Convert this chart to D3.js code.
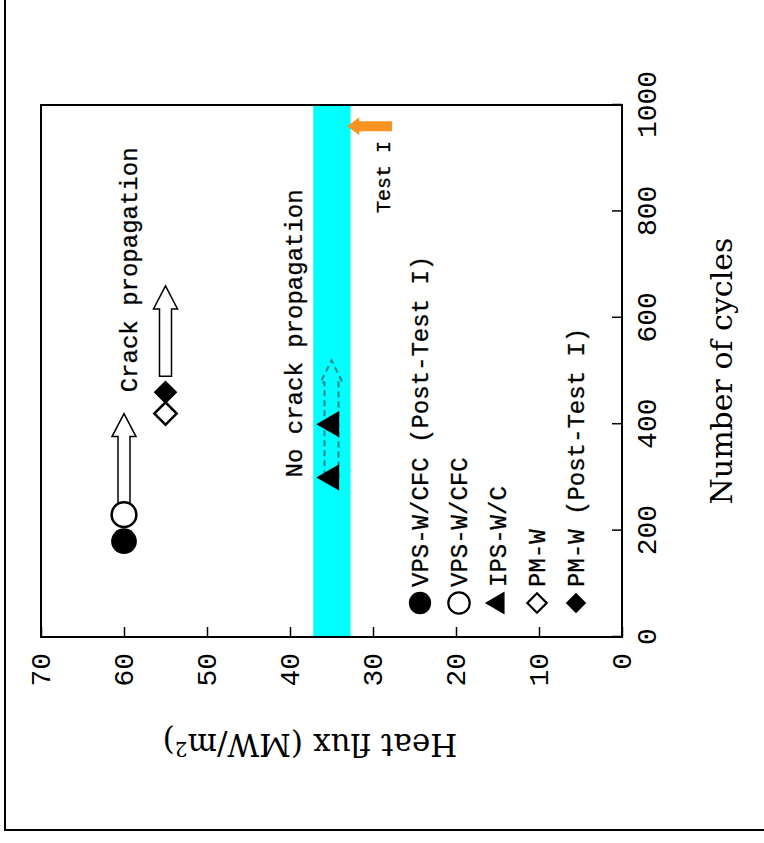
<!DOCTYPE html>
<html>
<head>
<meta charset="utf-8">
<script src="https://cdn.jsdelivr.net/npm/d3@7"></script>
<style>
body { margin: 0; background: #fff; }
</style>
</head>
<body>
<svg id="chart" width="764" height="843"></svg>
<script>
// chart values
const cycleTicks = [0, 200, 400, 600, 800, 1000];
const fluxTicks = [0, 10, 20, 30, 40, 50, 60, 70];
const seriesNames = ["VPS-W/CFC (Post-Test I)", "VPS-W/CFC", "IPS-W/C", "PM-W", "PM-W (Post-Test I)"];
const seriesFlux = [60, 60, 35, 55, 55];
const seriesCycles = [[180], [230], [300, 400], [420], [460]];
const bandFlux = [32.7, 37.2];
const crackArrowFlux = [60, 55];
const crackArrowFrom = [250, 490];
const crackArrowTo = [420, 660];
const noCrackFlux = 35;
const noCrackCycles = [300, 520];
const testCycles = 960;
const testFlux = [27.7, 33.1];
const noteText = ["Crack propagation", "No crack propagation", "Test I"];
const noteCycles = [460, 300, 797];
const noteFlux = [58.4, 38.5, 27.9];

const svg = d3.select("#chart");
const mono = "'Liberation Mono', 'Courier New', monospace";
const serif = "'DejaVu Serif', serif";

// outer figure border (only left and bottom are in view)
svg.append("rect").attr("x", 5).attr("y", -10).attr("width", 820).attr("height", 840)
    .attr("fill", "none").attr("stroke", "#000").attr("stroke-width", 2);

// the whole chart is drawn normally and then turned a quarter turn
const W = 532, H = 581;
const g = svg.append("g").attr("transform", "translate(41,637) rotate(-90)");

const x = d3.scaleLinear().domain([0, 1000]).range([0, W]);
const y = d3.scaleLinear().domain([0, 70]).range([H, 0]);

// test window band
g.append("rect")
    .attr("x", 0).attr("width", W)
    .attr("y", y(bandFlux[1])).attr("height", y(bandFlux[0]) - y(bandFlux[1]))
    .attr("fill", "#00ffff");

// axes
const xAxis = g.append("g").attr("transform", `translate(0,${H})`)
    .call(d3.axisBottom(x).tickValues(cycleTicks).tickFormat(d3.format("d"))
        .tickSizeInner(-10).tickSizeOuter(0).tickPadding(14));
const yAxis = g.append("g")
    .call(d3.axisLeft(y).tickValues(fluxTicks).tickFormat(d3.format("d"))
        .tickSizeInner(-10).tickSizeOuter(0).tickPadding(16));
[xAxis, yAxis].forEach(a => {
    a.select(".domain").remove();
    a.selectAll("line").attr("stroke", "#000").attr("stroke-width", 1.5);
    a.selectAll("text").attr("font-family", mono).attr("font-size", 28).attr("fill", "#000");
});

g.append("rect").attr("width", W).attr("height", H)
    .attr("fill", "none").attr("stroke", "#000").attr("stroke-width", 2);

// block arrow outline from (x0,y0) to (x1,y1)
function blockArrow(x0, y0, x1, y1, sw, hw, hl) {
    const dx = x1 - x0, dy = y1 - y0, L = Math.hypot(dx, dy);
    const ux = dx / L, uy = dy / L, nx = -uy, ny = ux;
    const bx = x1 - ux * hl, by = y1 - uy * hl;
    const pts = [
        [x0 + nx * sw, y0 + ny * sw], [bx + nx * sw, by + ny * sw], [bx + nx * hw, by + ny * hw],
        [x1, y1],
        [bx - nx * hw, by - ny * hw], [bx - nx * sw, by - ny * sw], [x0 - nx * sw, y0 - ny * sw]
    ];
    return d3.line()(pts) + "Z";
}

// hollow arrows for crack propagation
crackArrowFlux.forEach((f, i) => {
    g.append("path")
        .attr("d", blockArrow(x(crackArrowFrom[i]), y(f), x(crackArrowTo[i]), y(f), 6, 12, 23))
        .attr("fill", "#fff").attr("stroke", "#000").attr("stroke-width", 1.5);
});

// dashed arrow, no crack propagation
g.append("path")
    .attr("d", blockArrow(x(noCrackCycles[0]), y(noCrackFlux), x(noCrackCycles[1]), y(noCrackFlux), 7, 11, 22))
    .attr("fill", "none").attr("stroke", "#2b8f8f").attr("stroke-width", 2.2).attr("stroke-dasharray", "6,4");

// Test I arrow
g.append("path")
    .attr("d", blockArrow(x(testCycles), y(testFlux[0]), x(testCycles), y(testFlux[1]), 5, 9, 12))
    .attr("fill", "#f7931e");

// markers
const shapes = [
    { type: d3.symbolCircle, size: 520, fill: "#000", stroke: "none", rot: 0 },
    { type: d3.symbolCircle, size: 480, fill: "#fff", stroke: "#000", rot: 0 },
    { type: d3.symbolTriangle, size: 300, fill: "#000", stroke: "none", rot: 0 },
    { type: d3.symbolSquare, size: 250, fill: "#fff", stroke: "#000", rot: 45 },
    { type: d3.symbolSquare, size: 280, fill: "#000", stroke: "none", rot: 45 }
];

seriesCycles.forEach((cs, i) => {
    const s = shapes[i];
    g.append("g").selectAll("path")
        .data(cs)
        .enter().append("path")
        .attr("d", d3.symbol().type(s.type).size(s.size))
        .attr("transform", d => `translate(${x(d)},${y(seriesFlux[i])}) rotate(${s.rot})`)
        .attr("fill", s.fill).attr("stroke", s.stroke).attr("stroke-width", 2.5);
});

// notes
const noteSize = [24, 24, 20];
noteText.forEach((t, i) => {
    g.append("text").text(t)
        .attr("x", x(noteCycles[i])).attr("y", y(noteFlux[i]))
        .attr("font-family", mono).attr("font-size", noteSize[i]).attr("fill", "#000")
        .attr("stroke", "#000").attr("stroke-width", 0.3);
});

// legend
const legend = g.append("g").attr("transform", "translate(34,379)");
seriesNames.forEach((name, i) => {
    const s = shapes[i];
    const row = legend.append("g").attr("transform", `translate(0,${i * 39})`);
    row.append("path")
        .attr("d", d3.symbol().type(s.type).size(s.size * 0.75))
        .attr("transform", `rotate(${s.rot})`)
        .attr("fill", s.fill).attr("stroke", s.stroke).attr("stroke-width", 2.2);
    row.append("text").text(name)
        .attr("x", 16).attr("dy", "0.35em")
        .attr("font-family", mono).attr("font-size", 24).attr("fill", "#000")
        .attr("stroke", "#000").attr("stroke-width", 0.3);
});

// axis titles
g.append("text").text("Number of cycles")
    .attr("x", W / 2).attr("y", H + 110)
    .attr("text-anchor", "middle")
    .attr("font-family", serif).attr("font-size", 30).attr("fill", "#000");

const yt = g.append("text")
    .attr("transform", "translate(-97,269) rotate(-90)")
    .attr("text-anchor", "middle")
    .attr("font-family", serif).attr("font-size", 31).attr("fill", "#000");
yt.append("tspan").text("Heat flux (MW/m");
yt.append("tspan").text("2").attr("dy", "-0.4em").attr("font-size", 20);
yt.append("tspan").text(")").attr("dy", "0.4em");
</script>
</body>
</html>
